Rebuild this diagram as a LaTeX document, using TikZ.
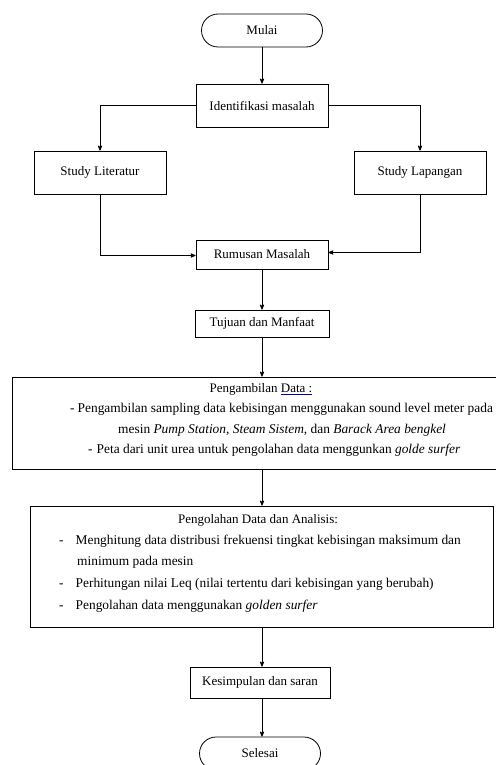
\documentclass[tikz,border=0pt]{standalone}
\usepackage{fontspec}
\setmainfont{Liberation Serif}
\usepackage{tikz}
\usetikzlibrary{arrows,positioning}
\usepackage{xcolor}

\newcommand{\blueline}[1]{\setbox0\hbox{#1}\rlap{\color{blue!75!black}\rule[-2.4pt]{\wd0}{0.7pt}}#1}

\begin{document}
\begin{tikzpicture}[x=1pt,y=-1pt,>=stealth',node distance=2cm,on grid,
    every node/.style={font=\fontsize{13}{15}\selectfont},
    term/.style={draw,line width=0.8pt,rounded corners=16.5pt,minimum width=121pt,minimum height=33pt,inner sep=0pt},
    box/.style={draw,line width=0.8pt,minimum width=132pt,minimum height=43pt,inner sep=0pt},
    txt/.style={anchor=west,inner sep=0pt,font=\fontsize{13.4}{15}\selectfont}]
    \useasboundingbox (0,0) rectangle (495,765);

      \node[term]          (mulai) at (262,30.5)    {Mulai};
      \node[box]           (ident) [below=75pt of mulai]    {Identifikasi masalah};
      \node[box]           (litr)  [below=67pt of ident, xshift=-162pt]    {Study Literatur};
      \node[box]           (lap)   [below=67pt of ident, xshift=158pt]    {Study Lapangan};
      \node[box,minimum height=29pt]  (rumus) [below=149pt of ident]    {Rumusan Masalah};
      \node[box,minimum width=134pt,minimum height=27pt]  (tujuan) [below=69pt of rumus]    {Tujuan dan Manfaat};
      \node[box,minimum width=484pt,minimum height=92pt]  (ambil) [below=99.5pt of tujuan, xshift=-7.5pt]    {};
      \node[box,minimum width=463pt,minimum height=121pt] (olah)  [below=143.5pt of ambil, xshift=7.5pt]    {};
      \node[box,minimum width=140pt,minimum height=31pt]  (kesim) [below=116pt of olah, xshift=-2pt]    {Kesimpulan dan saran};
      \node[term]          (selesai) [below=71pt of kesim]    {Selesai};

      % isi kotak pengambilan data
      \node[inner sep=0pt] (ambil0) at (261,389) {Pengambilan \blueline{Data :}};
      \node[txt] (ambil1) at (70,409) {-\hspace{3pt}Pengambilan sampling data kebisingan menggunakan sound level meter pada};
      \node[txt] (ambil2) at (118,430) {mesin \textit{Pump Station, Steam Sistem}, dan \textit{Barack Area bengkel}};
      \node[txt] (ambil3) at (88,450) {-\hspace{4pt}Peta dari unit urea untuk pengolahan data menggunkan \textit{golde surfer}};

      % isi kotak pengolahan data
      \node[inner sep=0pt] (olah0) at (258,520) {Pengolahan Data dan Analisis:};
      \node[txt] (olah1) at (59,541) {-\hspace{12pt}Menghitung data distribusi frekuensi tingkat kebisingan maksimum dan};
      \node[txt] (olah2) at (77,562) {minimum pada mesin};
      \node[txt] (olah3) at (59,584) {-\hspace{12pt}Perhitungan nilai Leq (nilai tertentu dari kebisingan yang berubah)};
      \node[txt] (olah4) at (59,606) {-\hspace{12pt}Pengolahan data menggunakan \textit{golden surfer}};

    \tikzset{flow/.style={->,line width=0.8pt}}
    \draw[flow] (mulai) -- (ident);
    \draw[flow] (ident.west) -| (litr.north);
    \draw[flow] (ident.east) -| (lap.north);
    \draw[flow] (litr.south) |- ([yshift=-1pt]rumus.west);
    \draw[flow] (lap.south) |- ([yshift=2pt]rumus.east);
    \draw[flow] (rumus) -- (tujuan);
    \draw[flow] (tujuan.south) -- (tujuan.south |- ambil.north);
    \draw[flow] (tujuan.south |- ambil.south) -- (tujuan.south |- olah.north);
    \draw[flow] (tujuan.south |- olah.south) -- (tujuan.south |- kesim.north);
    \draw[flow] (tujuan.south |- kesim.south) -- (tujuan.south |- selesai.north);
\end{tikzpicture}
\end{document}
